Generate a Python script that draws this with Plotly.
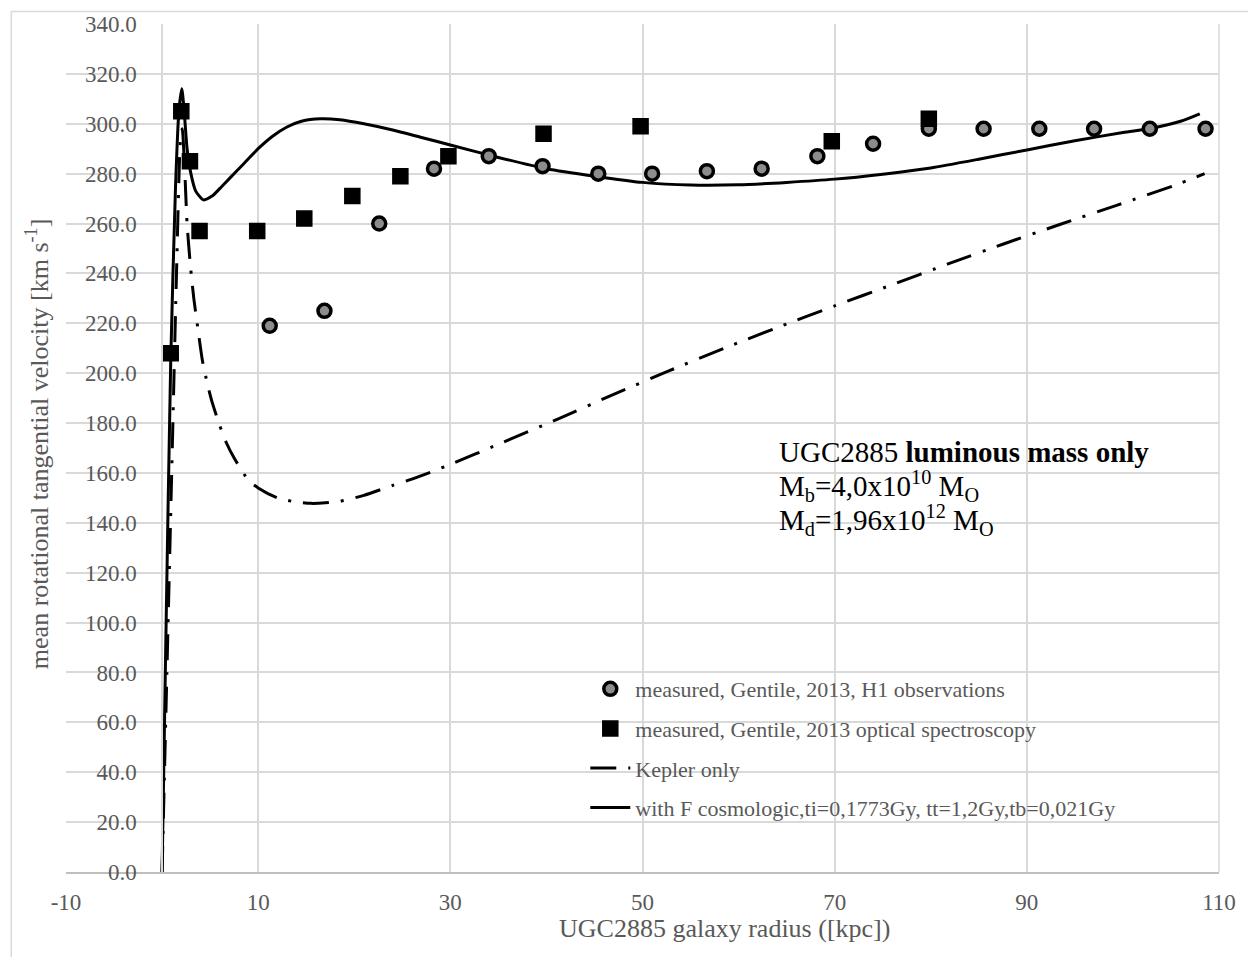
import plotly.graph_objects as go

# ---------------- data ----------------
h1_r = [11.2, 16.9, 22.6, 28.3, 34.0, 39.6, 45.4, 51.0, 56.7, 62.4, 68.2, 74.0, 79.8, 85.5, 91.3, 97.0, 102.8, 108.6]
h1_v = [219.0, 225.0, 260.0, 282.0, 287.0, 283.0, 280.0, 280.0, 281.0, 282.0, 287.0, 292.0, 298.0, 298.0, 298.0, 298.0, 298.0, 298.0]

opt_r = [0.9, 2.0, 2.9, 3.9, 9.9, 14.8, 19.8, 24.8, 29.8, 39.7, 49.8, 69.7, 79.8]
opt_v = [208.0, 305.0, 285.0, 257.0, 257.0, 262.0, 271.0, 279.0, 287.0, 296.0, 299.0, 293.0, 302.0]

kep_r = [0.0, 0.5, 1.0, 1.5, 1.9, 2.1, 2.35, 2.6, 2.95, 3.3, 3.65, 4.2, 4.7, 5.2, 6.0, 6.7, 7.5,
         9.0, 10.0, 12.0, 14.0, 15.5, 17.0, 18.5, 21.0, 24.0, 26.0, 30.0, 35.0, 41.3, 47.0,
         52.8, 58.5, 64.3, 70.0, 76.0, 81.8, 87.5, 93.5, 99.5, 105.3, 108.5]
kep_v = [0.0, 80.0, 160.0, 240.0, 293.0, 298.0, 282.0, 260.0, 243.0, 230.0, 220.0, 205.0, 196.0, 188.5, 179.0, 172.0, 166.0,
         157.0, 154.0, 150.0, 148.3, 147.8, 148.0, 148.6, 151.0, 155.0, 157.5, 163.4, 171.5, 181.8, 191.5,
         201.0, 210.0, 218.7, 227.0, 235.5, 243.8, 251.7, 259.7, 267.5, 275.2, 280.0]

cos_r = [0.0, 0.4, 0.9, 1.4, 1.75, 2.05, 2.3, 2.6, 3.0, 3.5, 4.3, 5.2, 6.0, 7.0, 8.5, 10.0, 11.5, 13.0,
         14.5, 16.5, 18.5, 21.0, 24.0, 27.0, 30.0, 35.0, 40.0, 45.0, 50.0, 55.0, 60.0, 65.0, 70.0,
         75.0, 80.0, 85.0, 90.0, 95.0, 100.0, 103.0, 106.0, 108.0]
cos_v = [0.0, 95.0, 205.0, 275.0, 305.0, 314.0, 305.0, 290.0, 280.0, 273.0, 269.5, 271.0, 274.0, 278.0, 284.0, 290.0, 295.0, 298.7,
         301.0, 302.0, 301.6, 300.0, 297.5, 294.5, 291.5, 286.5, 282.0, 279.0, 276.5, 275.4, 275.5, 276.5, 277.8,
         279.8, 282.3, 285.8, 289.5, 293.2, 296.5, 298.2, 301.0, 304.0]

x_ticks = [-10, 10, 30, 50, 70, 90, 110]
y_ticks = list(range(0, 341, 20))

name_h1 = "measured, Gentile, 2013, H1 observations"
name_opt = "measured, Gentile, 2013 optical spectroscopy"
name_kep = "Kepler only"
name_cos = "with F cosmologic,ti=0,1773Gy, tt=1,2Gy,tb=0,021Gy"

# ---------------- geometry helpers (pixels -> paper) ----------------
L, R, T, B = 66, 1225, 24, 872
W, H = R - L, B - T
def px(x):
    return (x - L) / W
def py(y):
    return (B - y) / H

FONT = "Liberation Serif, Times New Roman, serif"
GRAY = "#595959"
GRID = "#d9d9d9"

fig = go.Figure()

fig.add_trace(go.Scatter(
    x=kep_r, y=kep_v, mode="lines", name=name_kep, legendrank=3,
    line=dict(color="black", width=3, dash="26px,12px,3px,12px", shape="spline", smoothing=0.6),
    legendgroup="c"))
fig.add_trace(go.Scatter(
    x=cos_r, y=cos_v, mode="lines", name=name_cos, legendrank=4,
    line=dict(color="black", width=3, shape="spline", smoothing=0.6),
    legendgroup="d"))
fig.add_trace(go.Scatter(
    x=h1_r, y=h1_v, mode="markers", name=name_h1, legendrank=1,
    marker=dict(symbol="circle", size=13, color="#8c8c8c", line=dict(color="black", width=3.5)),
    legendgroup="a"))
fig.add_trace(go.Scatter(
    x=opt_r, y=opt_v, mode="markers", name=name_opt, legendrank=2,
    marker=dict(symbol="square", size=15, color="black", line=dict(color="black", width=1.5)),
    legendgroup="b"))

fig.update_layout(
    width=1248, height=957,
    margin=dict(l=L, r=1248 - R, t=T, b=957 - B),
    paper_bgcolor="white", plot_bgcolor="white",
    font=dict(family=FONT, color=GRAY, size=22),
    showlegend=True,
    legend=dict(
        x=px(588), y=py(668), xanchor="left", yanchor="top",
        bgcolor="rgba(0,0,0,0)", font=dict(size=22, color=GRAY, family=FONT),
        traceorder="grouped", tracegroupgap=8, itemwidth=40,
    ),
    xaxis=dict(
        range=[-10, 110], tickmode="array", tickvals=x_ticks, ticktext=[str(v) for v in x_ticks],
        showgrid=True, gridcolor=GRID, gridwidth=1.5, zeroline=False,
        showline=True, linecolor="#bfbfbf", linewidth=2,
        ticks="", ticklabelstandoff=8,
        tickfont=dict(size=23, color=GRAY, family=FONT),
    ),
    yaxis=dict(
        range=[0, 340], tickmode="array", tickvals=y_ticks, ticktext=[f"{v:.1f}" for v in y_ticks],
        anchor="free", position=px(L + 10 * W / 120),
        showgrid=True, gridcolor=GRID, gridwidth=1.5, zeroline=False,
        showline=True, linecolor=GRID, linewidth=1.5,
        ticks="", ticklabelstandoff=20,
        tickfont=dict(size=23, color=GRAY, family=FONT),
    ),
)

# outer chart border
fig.add_shape(type="rect", xref="paper", yref="paper",
              x0=px(11), x1=px(1262), y0=py(975), y1=py(11.5),
              line=dict(color=GRID, width=1.5), fillcolor="rgba(0,0,0,0)", layer="below")
# right plot edge
fig.add_shape(type="line", xref="paper", yref="paper", x0=1, x1=1, y0=0, y1=1,
              line=dict(color=GRID, width=1.5), layer="below")

# axis titles
fig.add_annotation(xref="paper", yref="paper", x=px(728), y=py(928),
                   text="UGC2885 galaxy radius ([kpc])", showarrow=False,
                   font=dict(size=26, color=GRAY, family=FONT), xanchor="center", yanchor="middle")
fig.add_annotation(xref="paper", yref="paper", x=px(38), y=py(444),
                   text="mean rotational tangential velocity [km s<sup>-1</sup>]", showarrow=False,
                   textangle=-90, font=dict(size=26, color=GRAY, family=FONT),
                   xanchor="center", yanchor="middle")

# info text
fig.add_annotation(xref="paper", yref="paper", x=px(781), y=py(452),
                   text="UGC2885 <b>luminous mass only</b>", showarrow=False, align="left",
                   font=dict(size=29, color="black", family=FONT), xanchor="left", yanchor="middle")
fig.add_annotation(xref="paper", yref="paper", x=px(781), y=py(486),
                   text="M<sub>b</sub>=4,0x10<sup>10</sup> M<sub>O</sub>", showarrow=False, align="left",
                   font=dict(size=29, color="black", family=FONT), xanchor="left", yanchor="middle")
fig.add_annotation(xref="paper", yref="paper", x=px(781), y=py(520),
                   text="M<sub>d</sub>=1,96x10<sup>12</sup> M<sub>O</sub>", showarrow=False, align="left",
                   font=dict(size=29, color="black", family=FONT), xanchor="left", yanchor="middle")

fig.write_html("out.html")
